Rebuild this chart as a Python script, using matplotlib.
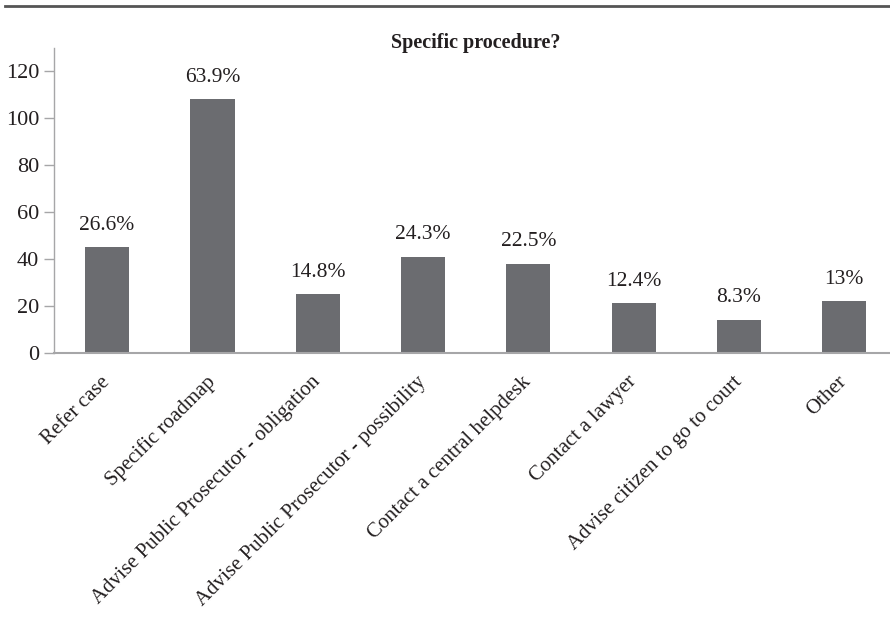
import numpy as np
import matplotlib
matplotlib.use("Agg")
import matplotlib.pyplot as plt
from matplotlib.lines import Line2D

plt.rcParams['font.family'] = ['Liberation Serif', 'DejaVu Serif']

# data
categories = ['Refer case', 'Specific roadmap', 'Advise Public Prosecutor - obligation',
              'Advise Public Prosecutor - possibility', 'Contact a central helpdesk',
              'Contact a lawyer', 'Advise citizen to go to court', 'Other']
counts = [45, 108, 25, 41, 38, 21, 14, 22]
pct_labels = ['26.6%', '63.9%', '14.8%', '24.3%', '22.5%', '12.4%', '8.3%', '13%']
yticks = [0, 20, 40, 60, 80, 100, 120]

bar_color = '#6b6c70'
axis_gray = '#a6a6a8'
text_color = '#231f20'

fig = plt.figure(figsize=(8.9, 6.4), dpi=100)
ax = fig.add_axes([0.0612, 0.4489, 0.9466, 0.4766])

x = np.arange(len(categories))
bars = ax.bar(x, counts, width=0.42, color=bar_color, zorder=2)

for b, lab in zip(bars, pct_labels):
    ax.annotate(lab, (b.get_x() + b.get_width() / 2, b.get_height()),
                xytext=(0, 9), textcoords='offset points',
                ha='center', va='bottom', fontsize=15.5, color=text_color)

ax.set_xlim(-0.5, len(categories) - 0.5)
ax.set_ylim(0, 130)
ax.set_yticks(yticks)
ax.tick_params(axis='y', direction='out', length=7, width=1, color=axis_gray,
               labelsize=16, labelcolor=text_color, pad=4)
ax.set_xticks(x)
ax.set_xticklabels(categories, rotation=45, ha='right', va='center',
                   rotation_mode='anchor', fontsize=15, color=text_color)
ax.tick_params(axis='x', length=0, pad=19)

for side in ['top', 'right']:
    ax.spines[side].set_visible(False)
ax.spines['left'].set_color(axis_gray)
ax.spines['left'].set_linewidth(1.0)
ax.spines['bottom'].set_color(axis_gray)
ax.spines['bottom'].set_linewidth(1.5)

ax.text(0.5, 1.0, 'Specific procedure?', transform=ax.transAxes, ha='center',
        va='baseline', fontsize=14.5, fontweight='bold', color=text_color)

# rule across the top of the page
fig.add_artist(Line2D([0.006, 1.0], [0.991, 0.991], transform=fig.transFigure,
                      color='#555555', linewidth=2))

fig.savefig('out.png', dpi=100)
